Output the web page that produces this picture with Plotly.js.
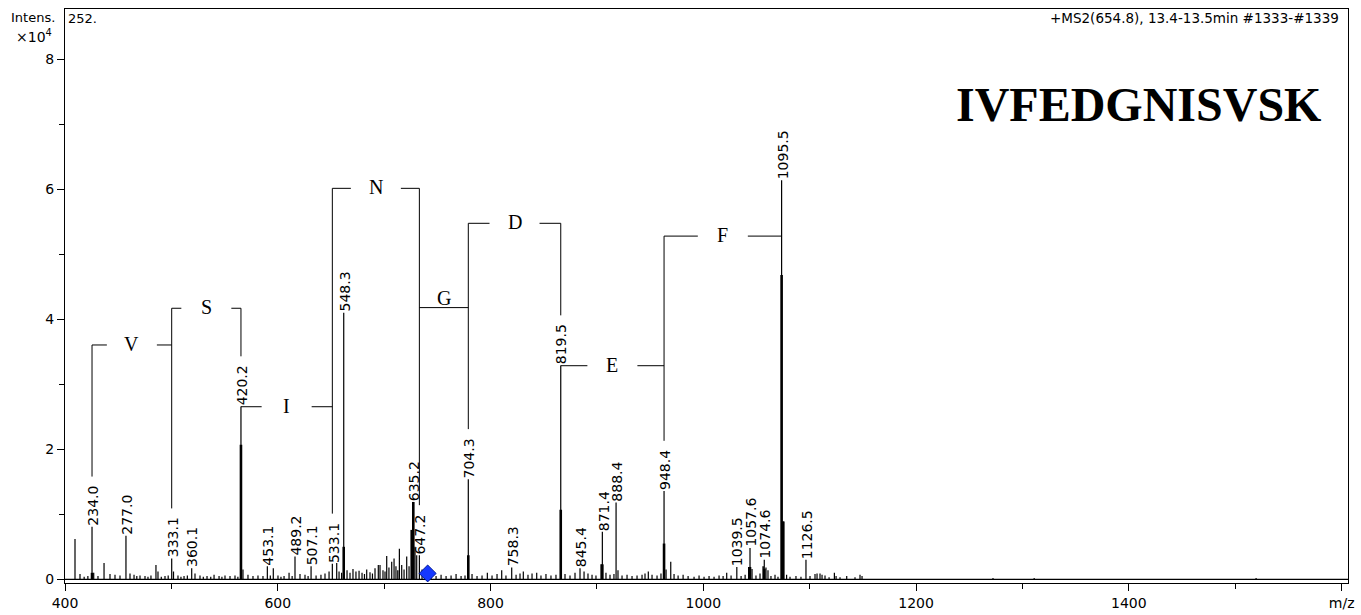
<!DOCTYPE html>
<html><head><meta charset="utf-8">
<script src="https://cdn.plot.ly/plotly-3.0.1.min.js"></script>
<style>html,body{margin:0;padding:0;background:#fff;} #chart{width:1361px;height:615px;}</style>
</head><body><div id="chart"></div>
<script>
// ---- spectrum (axis m/z as drawn, intensity x10^4) ----
const peakMz = [409.4,414.1,418.0,421.5,425.4,427.0,431.0,436.7,442.3,447.0,451.7,457.3,461.1,464.9,467.5,470.5,475.2,478.0,480.8,485.5,487.4,490.5,494.0,497.0,500.3,502.0,506.2,509.0,511.9,515.0,519.1,522.2,526.9,530.0,533.5,537.0,540.1,544.8,547.5,550.4,555.1,559.8,562.5,565.4,567.3,572.0,576.7,581.4,586.1,590.2,593.0,595.8,600.2,603.0,605.9,610.6,613.5,616.2,620.9,625.6,628.5,631.3,636.0,640.6,644.4,648.2,651.3,655.4,657.6,660.0,662.0,665.1,667.9,670.7,673.5,676.4,679.2,681.5,683.6,686.7,689.0,691.4,694.5,696.1,698.9,700.8,702.4,704.5,707.1,709.3,711.1,712.8,714.3,716.5,718.7,721.2,723.4,725.9,727.4,729.0,730.6,733.1,735.6,738.4,741.0,744.1,748.8,753.5,758.2,762.9,767.6,772.3,776.0,779.1,782.6,787.3,792.0,797.0,801.4,806.1,810.5,814.5,819.9,824.0,827.7,830.8,835.2,839.0,843.4,847.4,852.1,856.8,861.5,866.0,870.0,874.7,879.4,884.1,887.9,891.6,895.4,899.1,903.8,905.1,908.5,912.3,916.0,918.0,919.8,923.6,928.3,933.0,937.7,942.4,945.2,948.3,951.8,956.5,960.2,963.1,965.0,969.4,972.5,976.3,981.0,985.7,991.3,996.0,1000.7,1005.4,1010.1,1014.8,1018.6,1022.0,1026.1,1031.5,1035.5,1039.3,1042.6,1043.9,1045.8,1049.5,1053.3,1056.1,1057.3,1058.9,1060.8,1063.6,1067.4,1070.2,1073.6,1075.2,1078.3,1081.5,1087.1,1091.8,1096.5,1100.3,1105.0,1106.9,1109.7,1111.6,1114.4,1118.2,1123.2,1124.8,1128.5,1134.8,1142.6,1147.3,1149.2,1272.3,1311.0,1519.6];
const peakInt = [0.62,0.08,0.04,0.05,0.81,0.10,0.05,0.25,0.08,0.07,0.06,0.67,0.09,0.07,0.05,0.06,0.05,0.04,0.06,0.22,0.12,0.04,0.05,0.06,0.32,0.12,0.06,0.04,0.05,0.06,0.17,0.09,0.06,0.04,0.05,0.04,0.07,0.05,0.04,0.06,0.05,0.06,0.04,2.66,0.15,0.07,0.05,0.06,0.05,0.20,0.06,0.17,0.06,0.04,0.05,0.10,0.05,0.35,0.08,0.07,0.05,0.20,0.06,0.07,0.09,0.12,0.24,0.25,0.12,0.10,4.10,0.14,0.10,0.16,0.12,0.13,0.10,0.08,0.15,0.11,0.09,0.17,0.22,0.22,0.14,0.12,0.36,0.18,0.27,0.32,0.20,0.14,0.47,0.22,0.15,0.35,0.20,0.76,1.19,0.50,0.37,0.37,0.15,0.08,0.05,0.06,0.05,0.07,0.05,0.06,0.08,0.05,0.06,1.54,0.08,0.05,0.06,0.10,0.06,0.08,0.14,0.06,0.18,0.07,0.09,0.12,0.07,0.09,0.10,0.06,0.08,0.06,0.07,3.29,0.08,0.06,0.10,0.17,0.12,0.09,0.07,0.06,0.23,0.73,0.10,0.07,0.08,1.18,0.14,0.06,0.07,0.05,0.06,0.07,0.09,0.12,0.07,0.06,0.09,1.36,0.15,0.27,0.08,0.06,0.07,0.05,0.04,0.06,0.04,0.05,0.04,0.06,0.05,0.10,0.06,0.19,0.05,0.07,0.19,0.48,0.16,0.06,0.09,0.20,0.30,0.18,0.14,0.05,0.07,0.04,6.14,0.89,0.07,0.04,0.05,0.04,0.30,0.05,0.08,0.09,0.09,0.07,0.06,0.03,0.10,0.05,0.03,0.05,0.03,0.07,0.05,0.02,0.02,0.02];
// broad (thick) lower parts of the main peaks
const shoulderMz  = [425.4,565.4,662.0,725.9,727.4,779.1,866.0,905.1,963.1,1043.9,1057.3,1073.6,1075.2];
const shoulderInt = [0.10,2.07,0.50,0.76,1.19,0.37,1.07,0.23,0.55,0.19,0.16,4.68,0.89];
// precursor marker
const precursorMz = [740.9];
const precursorInt = [0.09];
// peak labels
const labelMz   = [425.4,457.3,500.3,519.1,565.4,590.2,616.2,631.3,651.3,662.0,727.4,733.1,779.1,819.9,866.0,884.1,905.1,918.0,963.1,1031.5,1043.9,1057.3,1073.6,1096.5];
const labelText = ['234.0','277.0','333.1','360.1','420.2','453.1','489.2','507.1','533.1','548.3','635.2','647.2','704.3','758.3','819.5','845.4','871.4','888.4','948.4','1039.5','1057.6','1074.6','1095.5','1126.5'];
// sequence ladder
const ladderRes   = ['V','S','I','N','G','D','E','F'];
const ladderFrom  = ['234.0','333.1','420.2','533.1','647.2','704.3','819.5','948.4'];
const ladderTo    = ['333.1','420.2','533.1','647.2','704.3','819.5','948.4','1095.5'];
const ladderLevel = [3.605,4.17,2.655,6.015,4.18,5.477,3.286,5.28];
// axes
const xRange = [400,1606];
const yRange = [-0.057,8.774];
const xTickVals = [400,600,800,1000,1200,1400,1600];
const xTickText = ['400','600','800','1000','1200','1400','m/z'];
const yTickVals = [0,2,4,6,8];

const W = 1361, H = 615;
const M = {l:65, r:13, t:9, b:32};
const pxPerX = (W - M.l - M.r) / (xRange[1]-xRange[0]);
const pxPerY = (H - M.t - M.b) / (yRange[1]-yRange[0]);
const LFONT = 'DejaVu Sans';
const LSIZE = 14;

// ---- traces ----
const order = peakMz.map((m,i)=>i).sort((a,b)=>peakMz[a]-peakMz[b]);
const sx=[xRange[0]], sy=[0];
order.forEach(i=>{ sx.push(peakMz[i],peakMz[i],peakMz[i]); sy.push(0,peakInt[i],0); });
sx.push(xRange[1]); sy.push(0);
const tx=[], ty=[];
shoulderMz.forEach((m,i)=>{ tx.push(m,m,null); ty.push(0,shoulderInt[i],null); });

const traces = [
  {x:sx, y:sy, type:'scatter', mode:'lines', line:{color:'#000', width:1.2}, hoverinfo:'skip'},
  {x:tx, y:ty, type:'scatter', mode:'lines', line:{color:'#000', width:2.6}, hoverinfo:'skip'},
  {x:precursorMz, y:precursorInt, type:'scatter', mode:'markers',
   marker:{symbol:'diamond', size:13, color:'#1538ff', line:{color:'#001a99', width:1}}, hoverinfo:'skip'}
];

function intAt(mz){
  let best=0, d=1e9;
  peakMz.forEach((m,i)=>{ const dd=Math.abs(m-mz); if(dd<d){d=dd;best=i;} });
  return peakInt[best];
}
const cv = document.createElement('canvas').getContext('2d');
cv.font = LSIZE+'px "'+LFONT+'"';
function textPx(t){ return cv.measureText(t).width; }

const annotations = [];
const labelTop = {}, labelX = {}, labelH = {};
labelText.forEach((t,i)=>{
  const m = labelMz[i], h = intAt(m);
  labelX[t]=m; labelH[t]=h;
  labelTop[t] = h + (textPx(t)+4+6)/pxPerY;
  annotations.push({x:m, y:h, xref:'x', yref:'y', text:t, textangle:-90, showarrow:false,
    xanchor:'center', yanchor:'bottom', xshift:1, yshift:0, borderpad:0,
    font:{family:LFONT, size:LSIZE, color:'#000'}});
});

const shapes = [];
function seg(x0,y0,x1,y1){ shapes.push({type:'line', xref:'x', yref:'y', x0:x0,y0:y0,x1:x1,y1:y1, line:{color:'#000', width:1}}); }
ladderRes.forEach((r,k)=>{
  const x1 = labelX[ladderFrom[k]], x2 = labelX[ladderTo[k]], L = ladderLevel[k];
  const mid = (x1+x2)/2;
  const spanPx = (x2-x1)*pxPerX;
  if (spanPx > 55){
    const g = 25/pxPerX;
    seg(x1,L,mid-g,L); seg(mid+g,L,x2,L);
    annotations.push({x:mid, y:L, xref:'x', yref:'y', text:r, showarrow:false, xanchor:'center', yanchor:'middle', yshift:1,
      font:{family:'Liberation Serif', size:20, color:'#000'}});
  } else {
    seg(x1,L,x2,L);
    annotations.push({x:mid, y:L, xref:'x', yref:'y', text:r, showarrow:false, xanchor:'center', yanchor:'bottom', yshift:-3,
      font:{family:'Liberation Serif', size:20, color:'#000'}});
  }
});
// verticals at ladder nodes
const nodes = [...new Set(ladderFrom.concat(ladderTo))];
nodes.forEach(n=>{
  let maxL = -1;
  ladderFrom.forEach((f,k)=>{ if(f===n) maxL=Math.max(maxL,ladderLevel[k]); });
  ladderTo.forEach((f,k)=>{ if(f===n) maxL=Math.max(maxL,ladderLevel[k]); });
  if (maxL > labelH[n] + 0.05) seg(labelX[n], maxL, labelX[n], labelTop[n]);
});

// header texts
const hdr = {family:'DejaVu Sans', size:13, color:'#000'};
const pw = W-M.l-M.r, ph = H-M.t-M.b;
annotations.push({xref:'paper', yref:'paper', x:(9-M.l)/pw, y:(H-M.b-17)/ph, xanchor:'left', yanchor:'middle', text:'Intens.', showarrow:false, font:hdr});
annotations.push({xref:'paper', yref:'paper', x:(54-M.l)/pw, y:(H-M.b-36)/ph, xanchor:'right', yanchor:'middle', text:'×10<sup>4</sup>', showarrow:false, font:{family:'DejaVu Sans', size:14, color:'#000'}});
annotations.push({xref:'paper', yref:'paper', x:(66-M.l)/pw, y:(H-M.b-19)/ph, xanchor:'left', yanchor:'middle', text:'252.', showarrow:false, font:hdr});
annotations.push({xref:'paper', yref:'paper', x:(1341-M.l)/pw, y:(H-M.b-18)/ph, xanchor:'right', yanchor:'middle', text:'+MS2(654.8), 13.4-13.5min #1333-#1339', showarrow:false, font:{family:'DejaVu Sans', size:13.5, color:'#000'}});
annotations.push({xref:'paper', yref:'paper', x:(1323-M.l)/pw, y:(H-M.b-105)/ph, xanchor:'right', yanchor:'middle', text:'<b>IVFEDGNISVSK</b>', showarrow:false, font:{family:'Liberation Serif', size:48, color:'#000'}});

const axisCommon = {showline:true, mirror:true, linecolor:'#000', linewidth:1, ticks:'outside', ticklen:7, tickcolor:'#000', tickwidth:1,
  showgrid:false, zeroline:false, tickfont:{family:'DejaVu Sans', size:14, color:'#000'}, fixedrange:true};
const layout = {
  width:W, height:H, margin:M, paper_bgcolor:'#fff', plot_bgcolor:'#fff', showlegend:false,
  xaxis: Object.assign({}, axisCommon, {range:xRange, tickmode:'array', tickvals:xTickVals, ticktext:xTickText,
    minor:{tickmode:'linear', tick0:0, dtick:100, ticks:'outside', ticklen:5, tickcolor:'#000', showgrid:false}}),
  yaxis: Object.assign({}, axisCommon, {range:yRange, tickmode:'array', tickvals:yTickVals,
    minor:{tickmode:'linear', tick0:0, dtick:1, ticks:'outside', ticklen:5, tickcolor:'#000', showgrid:false}}),
  shapes:shapes, annotations:annotations
};
Plotly.newPlot('chart', traces, layout, {staticPlot:true, displayModeBar:false});
</script></body></html>
